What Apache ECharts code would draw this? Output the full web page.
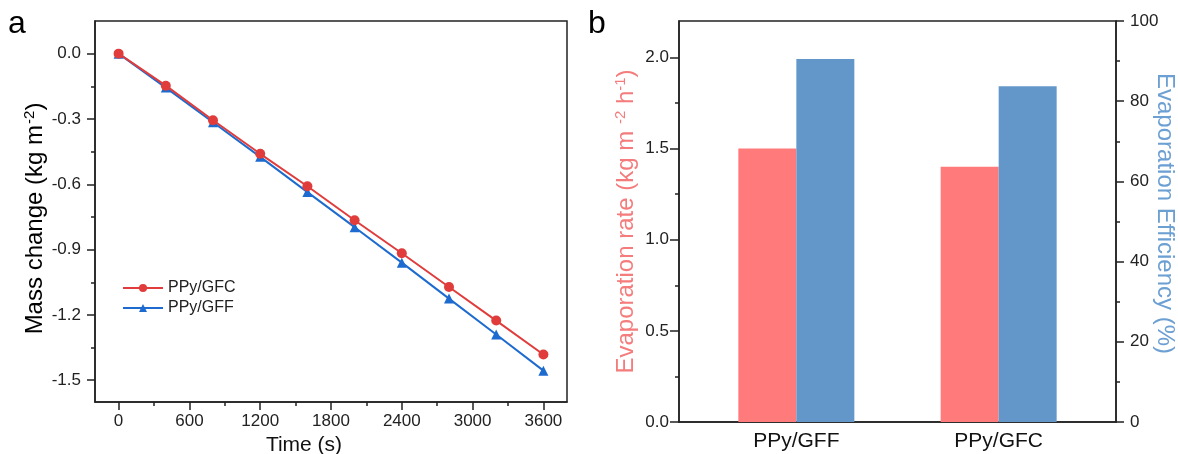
<!DOCTYPE html>
<html><head><meta charset="utf-8">
<script src="https://cdn.jsdelivr.net/npm/echarts@6/dist/echarts.min.js"></script>
<style>html,body{margin:0;padding:0;background:#fff}#c{width:1178px;height:454px}</style>
</head><body><div id="c"></div>
<script>
// Panel a data
const times = [0, 400, 800, 1200, 1600, 2000, 2400, 2800, 3200, 3600];
const gfcMass = [0, -0.147, -0.306, -0.46, -0.609, -0.765, -0.917, -1.072, -1.226, -1.382];
const gffMass = [0, -0.156, -0.315, -0.474, -0.636, -0.797, -0.96, -1.125, -1.29, -1.456];
const timeTicks = [0, 600, 1200, 1800, 2400, 3000, 3600];
const timeMinor = [300, 900, 1500, 2100, 2700, 3300];
const massTicks = [0, -0.3, -0.6, -0.9, -1.2, -1.5];
const massMinor = [-0.15, -0.45, -0.75, -1.05, -1.35];
// Panel b data
const categories = ['PPy/GFF', 'PPy/GFC'];
const evapRate = [1.5, 1.4];
const evapEff = [90.5, 83.7];
const rateTicks = [0, 0.5, 1.0, 1.5, 2.0];
const rateMinor = [0.25, 0.75, 1.25, 1.75];

const FONT = 'Liberation Sans, Arial, sans-serif';
const AX = '#222';
const RED = '#E03C3C', BLUE = '#1E6BD0';
const BAR_RED = '#FF7B7B', BAR_BLUE = '#6497C9';

const chart = echarts.init(document.getElementById('c'));
const pair = (xs, ys) => xs.map((x, i) => [x, ys[i]]);
const line = {show: true, onZero: false, lineStyle: {color: AX, width: 1.5}};
const noLine = {show: false, onZero: false};

chart.setOption({
  animation: false,
  textStyle: {fontFamily: FONT},
  graphic: [
    {type: 'text', left: 8, top: 8, style: {text: 'a', font: '32px ' + FONT, fill: '#000'}},
    {type: 'text', left: 588, top: 8, style: {text: 'b', font: '32px ' + FONT, fill: '#000'}}
  ],
  grid: [
    {left: 95, top: 21, width: 472, height: 381, show: true, borderColor: AX, borderWidth: 1.5, outerBoundsMode: 'none'},
    {left: 679, top: 21, width: 437, height: 401, show: true, borderColor: AX, borderWidth: 1.5, outerBoundsMode: 'none'}
  ],
  legend: {
    data: ['PPy/GFC', 'PPy/GFF'], orient: 'vertical', left: 117, top: 275,
    itemWidth: 40, itemHeight: 10, itemGap: 4,
    textStyle: {fontSize: 16, lineHeight: 16, color: '#222', fontFamily: FONT}
  },
  xAxis: [
    {gridIndex: 0, type: 'value', min: -200, max: 3800,
      name: 'Time (s)', nameLocation: 'middle', nameGap: 29,
      nameTextStyle: {fontSize: 21, color: '#111', padding: [0, 54, 0, 0]},
      axisLine: line,
      axisTick: {show: true, length: 8, customValues: timeTicks, lineStyle: {color: AX, width: 1.5}},
      axisLabel: {customValues: timeTicks, formatter: v => String(v), fontSize: 17, color: '#222', margin: 11},
      splitLine: {show: false}},
    {gridIndex: 0, type: 'value', min: -200, max: 3800, position: 'bottom',
      axisLine: noLine,
      axisTick: {show: true, length: 4, customValues: timeMinor, lineStyle: {color: AX, width: 1.5}},
      axisLabel: {show: false}, splitLine: {show: false}},
    {gridIndex: 1, type: 'value', min: -0.58, max: 1.58,
      axisLine: line,
      axisTick: {show: false},
      axisLabel: {customValues: [0, 1], formatter: v => categories[Math.round(v)], fontSize: 21, color: '#111', margin: 9},
      splitLine: {show: false}}
  ],
  yAxis: [
    {gridIndex: 0, type: 'value', min: -1.6, max: 0.15,
      name: 'Mass change (kg m{sup|-2})', nameLocation: 'middle', nameGap: 46, nameRotate: 90,
      nameTextStyle: {fontSize: 24, color: '#000', padding: [0, 14, 0, 0],
        rich: {sup: {fontSize: 15, verticalAlign: 'top', lineHeight: 26, padding: [0, 0, 0, 1]}}},
      axisLine: line,
      axisTick: {show: true, length: 8, customValues: massTicks, lineStyle: {color: AX, width: 1.5}},
      axisLabel: {customValues: massTicks, formatter: v => v.toFixed(1), fontSize: 17, color: '#222', margin: 14},
      splitLine: {show: false}},
    {gridIndex: 0, type: 'value', min: -1.6, max: 0.15, position: 'left',
      axisLine: noLine,
      axisTick: {show: true, length: 4, customValues: massMinor, lineStyle: {color: AX, width: 1.5}},
      axisLabel: {show: false}, splitLine: {show: false}},
    {gridIndex: 1, type: 'value', min: 0, max: 2.2, position: 'left',
      name: 'Evaporation rate (kg m {sup|-2} h{sup|-1})', nameLocation: 'middle', nameGap: 40, nameRotate: 90,
      nameTextStyle: {fontSize: 24, color: '#F47C7C',
        rich: {sup: {fontSize: 15, color: '#F47C7C', verticalAlign: 'top', lineHeight: 26}}},
      axisLine: line,
      axisTick: {show: true, length: 9, customValues: rateTicks, lineStyle: {color: AX, width: 1.5}},
      axisLabel: {customValues: rateTicks, formatter: v => v.toFixed(1), fontSize: 17, color: '#222', margin: 10},
      splitLine: {show: false}},
    {gridIndex: 1, type: 'value', min: 0, max: 2.2, position: 'left',
      axisLine: noLine,
      axisTick: {show: true, length: 4, customValues: rateMinor, lineStyle: {color: AX, width: 1.5}},
      axisLabel: {show: false}, splitLine: {show: false}},
    {gridIndex: 1, type: 'value', min: 0, max: 100, interval: 20, position: 'right',
      name: 'Evaporation Efficiency (%)', nameLocation: 'middle', nameGap: 37, nameRotate: -90,
      nameMoveOverlap: false,
      nameTextStyle: {fontSize: 24, color: '#6C9FD2', padding: [0, 16, 0, 0]},
      axisLine: line,
      axisTick: {show: true, length: 8, lineStyle: {color: AX, width: 1.5}},
      minorTick: {show: true, splitNumber: 2, length: 4, lineStyle: {color: AX, width: 1.5}},
      axisLabel: {fontSize: 17, color: '#222', margin: 14},
      splitLine: {show: false}}
  ],
  series: [
    {name: 'PPy/GFC', type: 'line', xAxisIndex: 0, yAxisIndex: 0, data: pair(times, gfcMass),
      symbol: 'circle', symbolSize: 10, lineStyle: {color: RED, width: 2}, itemStyle: {color: RED}, z: 3},
    {name: 'PPy/GFF', type: 'line', xAxisIndex: 0, yAxisIndex: 0, data: pair(times, gffMass),
      symbol: 'triangle', symbolSize: 10, lineStyle: {color: BLUE, width: 2}, itemStyle: {color: BLUE}, z: 2},
    {name: 'rate', type: 'bar', xAxisIndex: 2, yAxisIndex: 2, data: pair([0, 1], evapRate),
      barWidth: 58, barGap: '0%', itemStyle: {color: BAR_RED}},
    {name: 'eff', type: 'bar', xAxisIndex: 2, yAxisIndex: 4, data: pair([0, 1], evapEff),
      barWidth: 58, barGap: '0%', itemStyle: {color: BAR_BLUE}}
  ]
});
</script></body></html>
